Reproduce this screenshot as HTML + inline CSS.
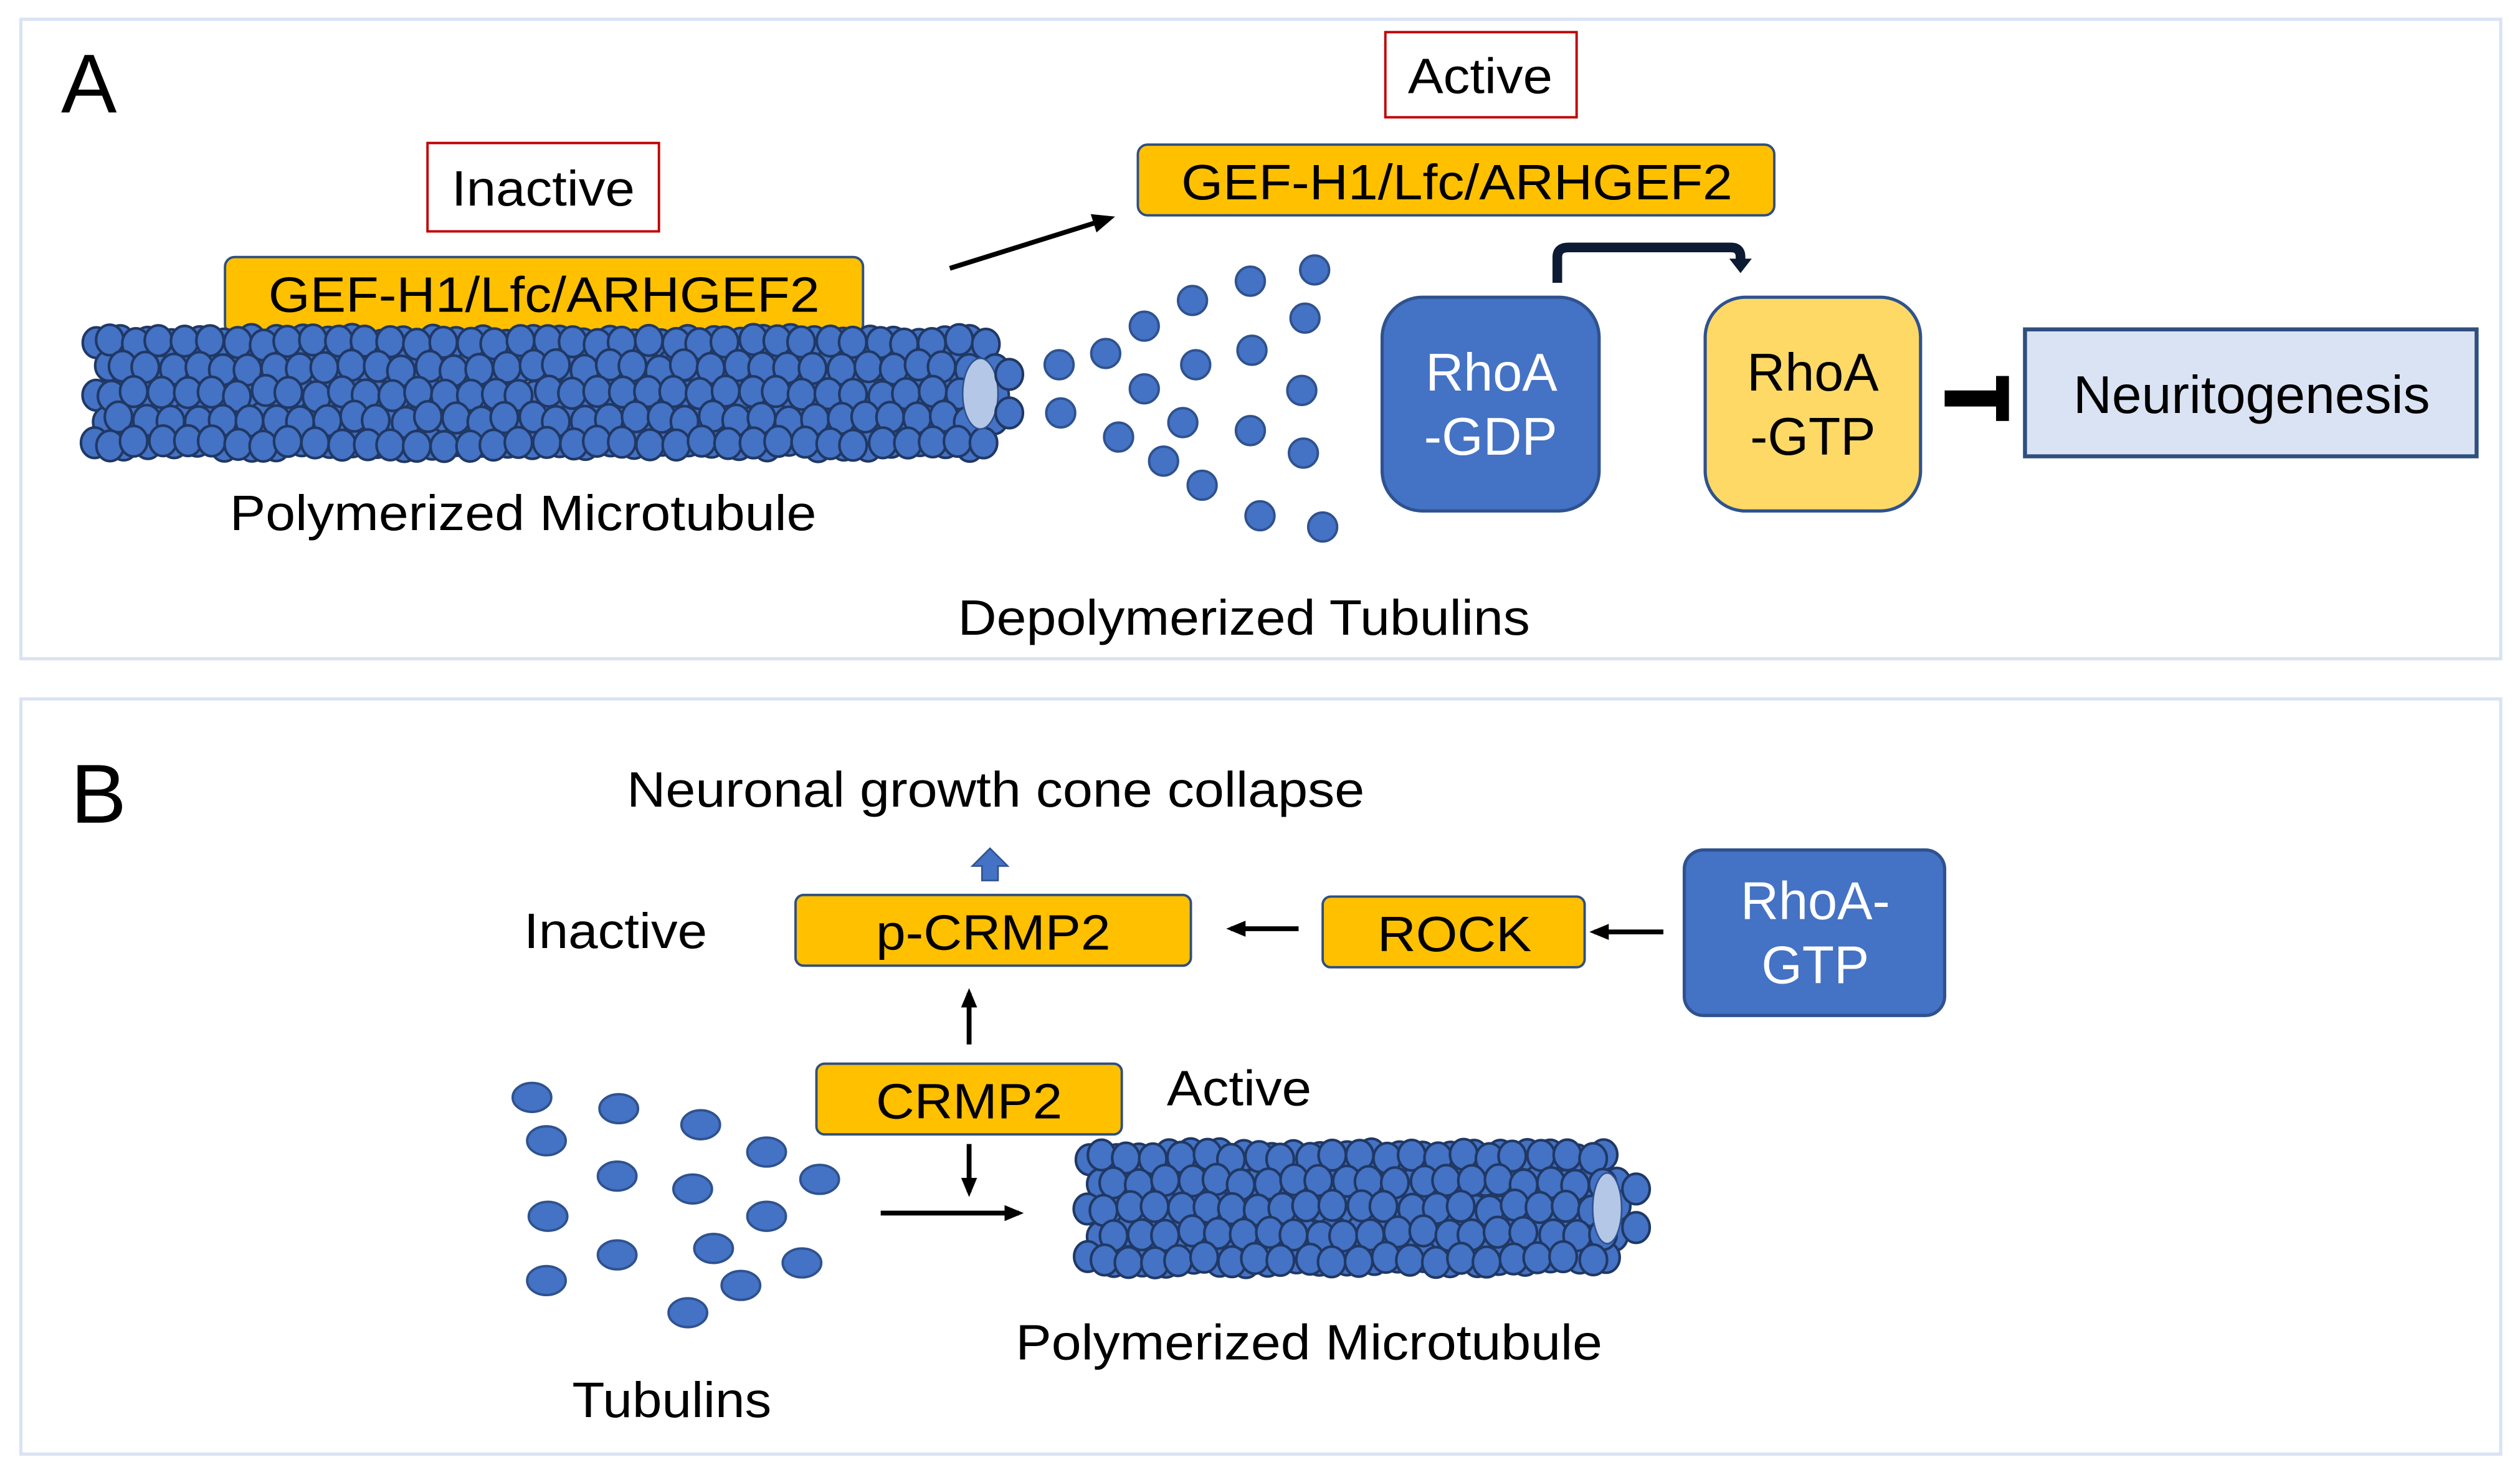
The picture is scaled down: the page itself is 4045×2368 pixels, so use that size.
<!DOCTYPE html>
<html><head><meta charset="utf-8"><style>
html,body{margin:0;padding:0;background:#fff;}
svg{display:block;font-family:"Liberation Sans",Arial,sans-serif;}
</style></head><body>
<svg id="s" width="4045" height="2368" viewBox="0 0 1568 918" preserveAspectRatio="none" xmlns="http://www.w3.org/2000/svg">
<defs>
<marker id="ah" markerWidth="12" markerHeight="12" refX="9" refY="6" orient="auto" markerUnits="userSpaceOnUse"><path d="M0,1 L12,6 L0,11 z" fill="#000"/></marker>
<marker id="ah2" markerWidth="14" markerHeight="14" refX="10" refY="7" orient="auto" markerUnits="userSpaceOnUse"><path d="M0,1 L14,7 L0,13 z" fill="#000"/></marker>
</defs>
<rect x="13" y="12" width="1543" height="398" fill="#fff" stroke="#dae3f3" stroke-width="2"/>
<rect x="13" y="435" width="1543" height="470" fill="#fff" stroke="#dae3f3" stroke-width="2"/>

<text x="38" y="70" font-size="52">A</text>
<rect x="266" y="89" width="144" height="55" fill="#fff" stroke="#c00000" stroke-width="1.5"/>
<text x="281" y="128" font-size="31" textLength="114" lengthAdjust="spacingAndGlyphs">Inactive</text>
<rect x="140" y="160" width="397" height="48" rx="6" fill="#ffc000" stroke="#2f4f7f" stroke-width="1.5"/>
<text x="167" y="194" font-size="31" textLength="343" lengthAdjust="spacingAndGlyphs">GEF-H1/Lfc/ARHGEF2</text>
<g id="mtA"></g>
<text x="143" y="330" font-size="31" textLength="365" lengthAdjust="spacingAndGlyphs">Polymerized Microtubule</text>

<line x1="591" y1="167" x2="690" y2="136" stroke="#000" stroke-width="3" marker-end="url(#ah2)"/>
<rect x="862" y="20" width="119" height="53" fill="#fff" stroke="#c00000" stroke-width="1.5"/>
<text x="876" y="58" font-size="31" textLength="90" lengthAdjust="spacingAndGlyphs">Active</text>
<rect x="708" y="90" width="396" height="44" rx="6" fill="#ffc000" stroke="#2f4f7f" stroke-width="1.5"/>
<text x="735" y="124" font-size="31" textLength="343" lengthAdjust="spacingAndGlyphs">GEF-H1/Lfc/ARHGEF2</text>
<g id="dots" fill="#4472c4" stroke="#2f528f" stroke-width="1.5"></g>
<text x="596" y="395" font-size="31" textLength="356" lengthAdjust="spacingAndGlyphs">Depolymerized Tubulins</text>

<rect x="860" y="185" width="135" height="133" rx="25" fill="#4472c4" stroke="#2f528f" stroke-width="2"/>
<text x="887" y="243" font-size="33" fill="#fff" textLength="82" lengthAdjust="spacingAndGlyphs">RhoA</text>
<text x="886" y="283" font-size="33" fill="#fff" textLength="83" lengthAdjust="spacingAndGlyphs">-GDP</text>
<rect x="1061" y="185" width="134" height="133" rx="25" fill="#ffd966" stroke="#2f528f" stroke-width="2"/>
<text x="1087" y="243" font-size="33" textLength="82" lengthAdjust="spacingAndGlyphs">RhoA</text>
<text x="1089" y="283" font-size="33" textLength="78" lengthAdjust="spacingAndGlyphs">-GTP</text>
<path d="M969,176 L969,160 Q969,154 976,154 L1077,154 Q1083,154 1083,160 L1083,163" fill="none" stroke="#0d1a33" stroke-width="6"/>
<path d="M1076,161 L1090,161 L1083,170 z" fill="#0d1a33"/>
<rect x="1210" y="243" width="38" height="10" fill="#000"/>
<rect x="1242" y="234" width="8" height="28" fill="#000"/>
<rect x="1260" y="205" width="281" height="79" fill="#dae3f3" stroke="#2f4f7f" stroke-width="2.5"/>
<text x="1290" y="257" font-size="33" textLength="222" lengthAdjust="spacingAndGlyphs">Neuritogenesis</text>

<text x="44" y="512" font-size="52">B</text>
<text x="390" y="502" font-size="31" textLength="459" lengthAdjust="spacingAndGlyphs">Neuronal growth cone collapse</text>
<path d="M611,548 L611,539 L605,539 L616,528 L627,539 L621,539 L621,548 z" fill="#4472c4" stroke="#2f528f" stroke-width="1"/>
<text x="326" y="590" font-size="31" textLength="114" lengthAdjust="spacingAndGlyphs">Inactive</text>
<rect x="495" y="557" width="246" height="44" rx="5" fill="#ffc000" stroke="#2f4f7f" stroke-width="1.5"/>
<text x="545" y="591" font-size="31" textLength="146" lengthAdjust="spacingAndGlyphs">p-CRMP2</text>
<line x1="808" y1="578" x2="766" y2="578" stroke="#000" stroke-width="3" marker-end="url(#ah)"/>
<rect x="823" y="558" width="163" height="44" rx="5" fill="#ffc000" stroke="#2f4f7f" stroke-width="1.5"/>
<text x="857" y="592" font-size="31" textLength="96" lengthAdjust="spacingAndGlyphs">ROCK</text>
<line x1="1035" y1="580" x2="992" y2="580" stroke="#000" stroke-width="3" marker-end="url(#ah)"/>
<rect x="1048" y="529" width="162" height="103" rx="12" fill="#4472c4" stroke="#2f528f" stroke-width="2"/>
<text x="1083" y="572" font-size="33" fill="#fff" textLength="93" lengthAdjust="spacingAndGlyphs">RhoA-</text>
<text x="1096" y="612" font-size="33" fill="#fff" textLength="67" lengthAdjust="spacingAndGlyphs">GTP</text>
<line x1="603" y1="650" x2="603" y2="618" stroke="#000" stroke-width="3" marker-end="url(#ah)"/>
<rect x="508" y="662" width="190" height="44" rx="5" fill="#ffc000" stroke="#2f4f7f" stroke-width="1.5"/>
<text x="545" y="696" font-size="31" textLength="116" lengthAdjust="spacingAndGlyphs">CRMP2</text>
<text x="726" y="688" font-size="31" textLength="90" lengthAdjust="spacingAndGlyphs">Active</text>
<line x1="603" y1="712" x2="603" y2="742" stroke="#000" stroke-width="3" marker-end="url(#ah)"/>
<line x1="548" y1="755" x2="634" y2="755" stroke="#000" stroke-width="3" marker-end="url(#ah)"/>
<g id="tubB" fill="#4472c4" stroke="#2f528f" stroke-width="1.5"></g>
<g id="mtB"></g>
<text x="632" y="846" font-size="31" textLength="365" lengthAdjust="spacingAndGlyphs">Polymerized Microtubule</text>
<text x="356" y="882" font-size="31" textLength="124" lengthAdjust="spacingAndGlyphs">Tubulins</text>
</svg>
<script>
var NS="http://www.w3.org/2000/svg";
function el(p,t,a){var e=document.createElementNS(NS,t);for(var k in a)e.setAttribute(k,a[k]);p.appendChild(e);return e;}
var seed=7;function rnd(){seed=(seed*9301+49297)%233280;return seed/233280;}
function mt(id,x0,x1,ys,ell){
 var g=document.getElementById(id);
 for(var pass=0;pass<2;pass++){
 ys.forEach(function(y,i){
  var off=(i%2)*7+pass*8;
  for(var x=x0+off;x<=x1-(i==0||i==ys.length-1?10:0);x+=16){
   el(g,"ellipse",{cx:x+(rnd()-0.5)*3,cy:y+(rnd()-0.5)*4,rx:8.5,ry:9.5,fill:"#4472c4",stroke:"#203864","stroke-width":1.6});
  }
 });}
 el(g,"ellipse",{cx:ell[0],cy:ell[1],rx:ell[2],ry:ell[3],fill:"#b4c7e7",stroke:"#2f528f","stroke-width":1});
 el(g,"ellipse",{cx:ell[0]+18,cy:ell[1]-12,rx:8.5,ry:9.5,fill:"#4472c4",stroke:"#203864","stroke-width":1.6});
 el(g,"ellipse",{cx:ell[0]+18,cy:ell[1]+12,rx:8.5,ry:9.5,fill:"#4472c4",stroke:"#203864","stroke-width":1.6});
}
mt("mtA",60,622,[213,229,245,261,276],[610,245,11,22]);
mt("mtB",678,1012,[720,736,752,768,784],[1000,752,9,22]);
var d=[[659,227],[660,257],[688,220],[712,203],[742,187],[778,175],[818,168],[812,198],[779,218],[744,227],[712,242],[696,272],[736,263],[778,268],[810,243],[811,282],[724,287],[748,302],[784,321],[823,328]];
var g=document.getElementById("dots");d.forEach(function(p){el(g,"circle",{cx:p[0],cy:p[1],r:9});});
var t=[[331,683],[340,710],[385,690],[384,732],[341,757],[384,781],[340,797],[436,700],[431,740],[477,717],[477,757],[510,734],[444,777],[461,800],[499,786],[428,817]];
var g2=document.getElementById("tubB");t.forEach(function(p){el(g2,"ellipse",{cx:p[0],cy:p[1],rx:12,ry:9});});
</script>
</body></html>
